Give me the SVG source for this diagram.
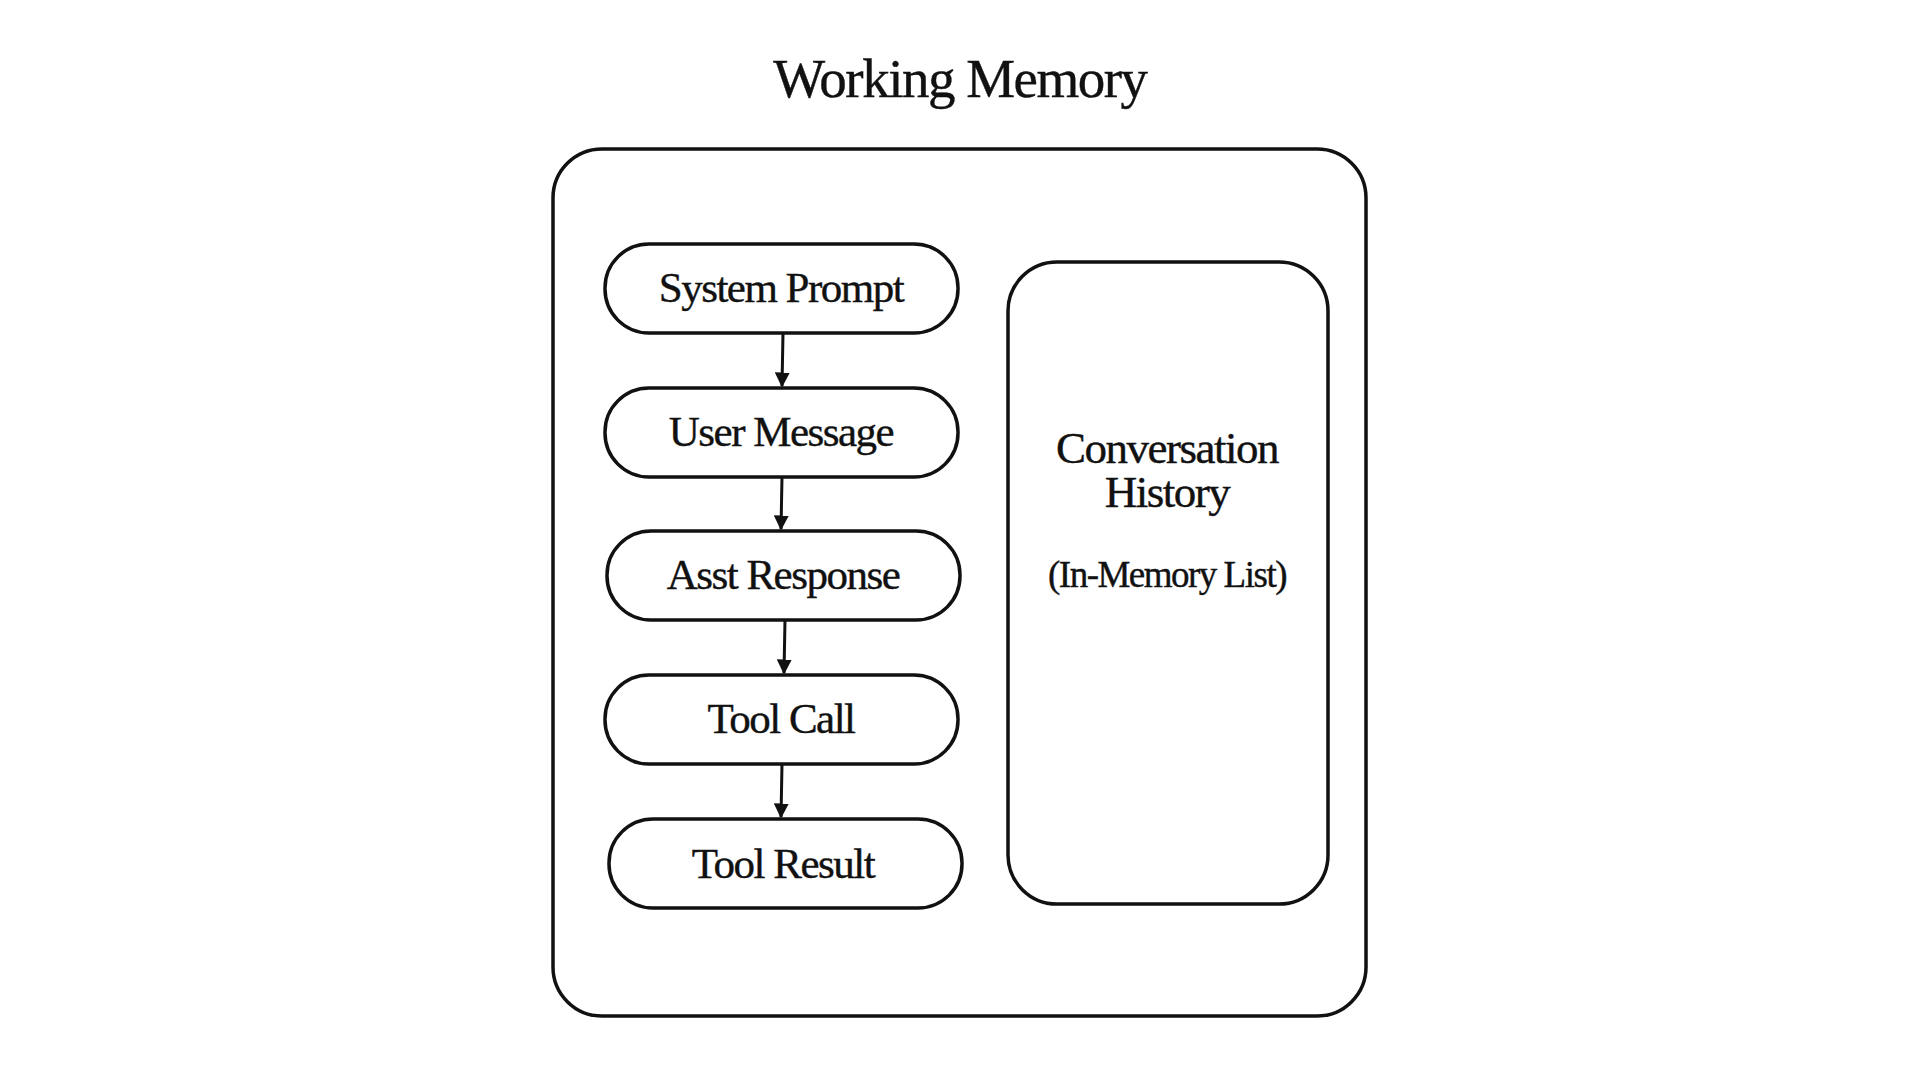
<svg xmlns="http://www.w3.org/2000/svg" width="1920" height="1080" viewBox="0 0 1920 1080">
<style>
.box{fill:#fff;stroke:#111;stroke-width:3.5}
.t{font-family:"Liberation Serif",serif;fill:#111;text-anchor:middle;letter-spacing:-1.5px;stroke:#111;stroke-width:0.4}
.c{stroke:#111;stroke-width:3;fill:none;marker-end:url(#a)}
</style>
<defs><marker id="a" viewBox="0 0 10 10" refX="9" refY="5" markerWidth="5" markerHeight="5" orient="auto"><path d="M0,0L10,5L0,10z" fill="#111"/></marker></defs>
<rect width="1920" height="1080" fill="#fff"/>
<text class="t" x="960" y="97" font-size="55">Working Memory</text>
<g id="outer"><rect class="box" x="553" y="149" width="813" height="867" rx="49"/></g>
<g id="sp"><rect class="box" x="605" y="244" width="353" height="89" rx="44"/><text class="t" x="781" y="302" font-size="43">System Prompt</text></g>
<g id="um"><rect class="box" x="605" y="388" width="353" height="89" rx="44"/><text class="t" x="781" y="446" font-size="43">User Message</text></g>
<g id="ar"><rect class="box" x="607" y="531" width="353" height="89" rx="44"/><text class="t" x="783" y="589" font-size="43">Asst Response</text></g>
<g id="tc"><rect class="box" x="605" y="675" width="353" height="89" rx="44"/><text class="t" x="781" y="733" font-size="43">Tool Call</text></g>
<g id="tr"><rect class="box" x="609" y="819" width="353" height="89" rx="44"/><text class="t" x="783" y="878" font-size="43">Tool Result</text></g>
<g id="ch"><rect class="box" x="1008" y="262" width="320" height="642" rx="49"/>
<text class="t" x="1167" y="463" font-size="45">Conversation</text>
<text class="t" x="1167" y="507" font-size="45">History</text>
<text class="t" x="1167" y="587" font-size="37">(In-Memory List)</text></g>
<g id="connectors">
<path class="c" d="M783,333L782,386"/>
<path class="c" d="M782,477L781,529"/>
<path class="c" d="M785,620L784,673"/>
<path class="c" d="M782,764L781,817"/>
</g>
</svg>
